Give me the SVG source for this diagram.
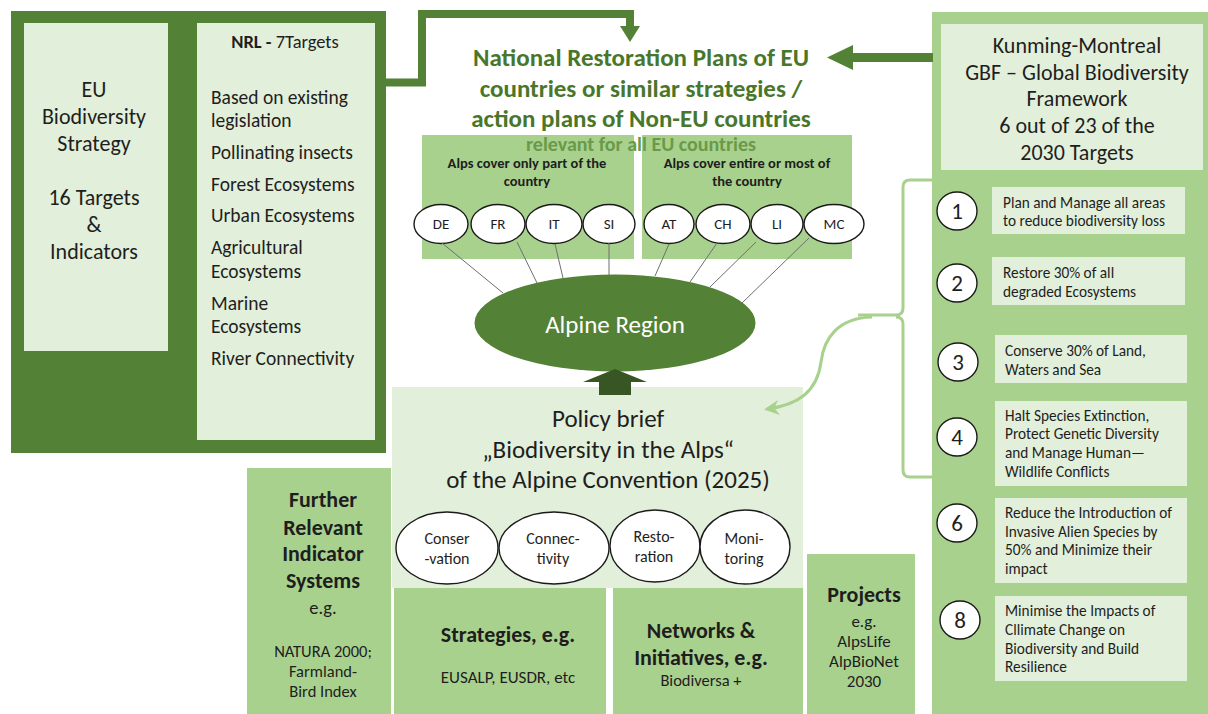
<svg xmlns="http://www.w3.org/2000/svg" width="1208" height="714" viewBox="0 0 1208 714">
  <defs>
    <style>
      text { font-family: Carlito, Lato, "Liberation Sans", sans-serif; fill: #1e1e1e; dominant-baseline: central; }
      .c { text-anchor: middle; }
      .b { font-weight: bold; }
      .dark { fill: #538135; }
      .mid { fill: #a9d18e; }
      .light { fill: #e2efda; }
      .node-ell { fill: #ffffff; stroke: #1a1a1a; stroke-width: 1.4; }
      .spoke { stroke: #6f6f6f; stroke-width: 1; fill: none; }
      .t-eu { font-size: 22px; }
      .t-nrl { font-size: 19.5px; }
      .t-title { font-size: 25px; font-weight: bold; fill: #48772b; }
      .t-gbf { font-size: 22px; }
      .t-tgt { font-size: 15.3px; }
      .t-num { font-size: 23px; }
      .t-ctry { font-size: 15px; }
      .t-grp { font-size: 14.5px; font-weight: bold; }
      .t-pb { font-size: 25px; }
      .t-pill { font-size: 16px; }
      .t-hd { font-size: 22px; font-weight: bold; }
      .t-sm { font-size: 16.5px; }
    </style>
    <marker id="lightHead" viewBox="0 0 10 10" refX="8" refY="5" markerWidth="5" markerHeight="5" orient="auto" markerUnits="strokeWidth">
      <path d="M0,0 L10,5 L0,10 L3,5 Z" fill="#a9d18e"/>
    </marker>
  </defs>

  <rect width="1208" height="714" fill="#ffffff"/>

  <!-- EU frame: strategy + nature restoration law -->
  <g id="eu-frame">
    <rect class="dark" x="11" y="11" width="375" height="442"/>
  </g>

  <g id="eu-strategy">
    <rect class="light" x="24" y="23" width="144" height="328"/>
    <text class="c t-eu" x="94" y="89">EU</text>
    <text class="c t-eu" x="94" y="116">Biodiversity</text>
    <text class="c t-eu" x="94" y="143">Strategy</text>
    <text class="c t-eu" x="94" y="197">16 Targets</text>
    <text class="c t-eu" x="94" y="224">&amp;</text>
    <text class="c t-eu" x="94" y="251">Indicators</text>
  </g>

  <g id="nrl">
    <rect class="light" x="197" y="23" width="178" height="417"/>
    <text class="c" x="285" y="41" font-size="18.5"><tspan class="b">NRL -</tspan> 7Targets</text>
    <text class="t-nrl" x="211" y="97">Based on existing</text>
    <text class="t-nrl" x="211" y="120">legislation</text>
    <text class="t-nrl" x="211" y="152">Pollinating insects</text>
    <text class="t-nrl" x="211" y="184">Forest Ecosystems</text>
    <text class="t-nrl" x="211" y="215">Urban Ecosystems</text>
    <text class="t-nrl" x="211" y="247">Agricultural</text>
    <text class="t-nrl" x="211" y="271">Ecosystems</text>
    <text class="t-nrl" x="211" y="303">Marine</text>
    <text class="t-nrl" x="211" y="326">Ecosystems</text>
    <text class="t-nrl" x="211" y="358">River Connectivity</text>
  </g>

  <!-- GBF column -->
  <g id="gbf">
    <rect class="mid" x="932" y="12" width="276" height="702"/>
    <rect class="light" x="941" y="24" width="262" height="146"/>
    <text class="c t-gbf" x="1077" y="45">Kunming-Montreal</text>
    <text class="c t-gbf" x="1077" y="72">GBF – Global Biodiversity</text>
    <text class="c t-gbf" x="1077" y="98">Framework</text>
    <text class="c t-gbf" x="1077" y="125">6 out of 23 of the</text>
    <text class="c t-gbf" x="1077" y="152">2030 Targets</text>
  </g>

  <g id="target-1">
    <ellipse class="node-ell" cx="957" cy="211" rx="20" ry="19"/>
    <text class="c t-num" x="957" y="211">1</text>
    <rect class="light" x="992" y="187" width="193" height="47"/>
    <text class="t-tgt" x="1003" y="202">Plan and Manage all areas</text>
    <text class="t-tgt" x="1003" y="220">to reduce biodiversity loss</text>
  </g>
  <g id="target-2">
    <ellipse class="node-ell" cx="957" cy="283" rx="20" ry="19"/>
    <text class="c t-num" x="957" y="283">2</text>
    <rect class="light" x="992" y="257" width="193" height="48"/>
    <text class="t-tgt" x="1003" y="272">Restore 30% of all</text>
    <text class="t-tgt" x="1003" y="291">degraded Ecosystems</text>
  </g>
  <g id="target-3">
    <ellipse class="node-ell" cx="958" cy="362" rx="20" ry="19"/>
    <text class="c t-num" x="958" y="362">3</text>
    <rect class="light" x="995" y="335" width="192" height="48"/>
    <text class="t-tgt" x="1005" y="350">Conserve 30% of Land,</text>
    <text class="t-tgt" x="1005" y="369">Waters and Sea</text>
  </g>
  <g id="target-4">
    <ellipse class="node-ell" cx="957" cy="437" rx="20" ry="19"/>
    <text class="c t-num" x="957" y="437">4</text>
    <rect class="light" x="995" y="401" width="192" height="85"/>
    <text class="t-tgt" x="1005" y="415">Halt Species Extinction,</text>
    <text class="t-tgt" x="1005" y="433">Protect Genetic Diversity</text>
    <text class="t-tgt" x="1005" y="452">and Manage Human—</text>
    <text class="t-tgt" x="1005" y="471">Wildlife Conflicts</text>
  </g>
  <g id="target-6">
    <ellipse class="node-ell" cx="957" cy="523" rx="20" ry="19"/>
    <text class="c t-num" x="957" y="523">6</text>
    <rect class="light" x="995" y="498" width="192" height="85"/>
    <text class="t-tgt" x="1005" y="512">Reduce the Introduction of</text>
    <text class="t-tgt" x="1005" y="531">Invasive Alien Species by</text>
    <text class="t-tgt" x="1005" y="549">50% and Minimize their</text>
    <text class="t-tgt" x="1005" y="568">impact</text>
  </g>
  <g id="target-8">
    <ellipse class="node-ell" cx="960" cy="620" rx="20" ry="19"/>
    <text class="c t-num" x="960" y="620">8</text>
    <rect class="light" x="995" y="596" width="192" height="85"/>
    <text class="t-tgt" x="1005" y="610">Minimise the Impacts of</text>
    <text class="t-tgt" x="1005" y="629">Cllimate Change on</text>
    <text class="t-tgt" x="1005" y="648">Biodiversity and Build</text>
    <text class="t-tgt" x="1005" y="666">Resilience</text>
  </g>

  <!-- country groups -->
  <g id="group-part">
    <rect class="mid" x="422" y="135" width="212" height="124"/>
    <text class="c t-grp" x="527" y="163">Alps cover only part of the</text>
    <text class="c t-grp" x="527" y="181">country</text>
  </g>
  <g id="group-most">
    <rect class="mid" x="642" y="135" width="210" height="124"/>
    <text class="c t-grp" x="747" y="163">Alps cover entire or most of</text>
    <text class="c t-grp" x="747" y="181">the country</text>
  </g>

  <g id="title">
    <text class="c t-title" x="641" y="57">National Restoration Plans of EU</text>
    <text class="c t-title" x="641" y="88">countries or similar strategies /</text>
    <text class="c t-title" x="641" y="118">action plans of Non-EU countries</text>
    <text class="c" x="641" y="144" font-size="20" font-weight="bold" style="fill:#6a9a48">relevant for all EU countries</text>
  </g>

  <!-- country nodes -->
  <g id="country-DE"><ellipse class="node-ell" cx="441" cy="224" rx="27" ry="19.5"/><text class="c t-ctry" x="441" y="224">DE</text></g>
  <g id="country-FR"><ellipse class="node-ell" cx="498" cy="224" rx="27" ry="19.5"/><text class="c t-ctry" x="498" y="224">FR</text></g>
  <g id="country-IT"><ellipse class="node-ell" cx="554" cy="224" rx="28" ry="19.5"/><text class="c t-ctry" x="554" y="224">IT</text></g>
  <g id="country-SI"><ellipse class="node-ell" cx="609" cy="224" rx="26" ry="19.5"/><text class="c t-ctry" x="609" y="224">SI</text></g>
  <g id="country-AT"><ellipse class="node-ell" cx="669" cy="224" rx="25" ry="19.5"/><text class="c t-ctry" x="669" y="224">AT</text></g>
  <g id="country-CH"><ellipse class="node-ell" cx="723" cy="224" rx="27" ry="19.5"/><text class="c t-ctry" x="723" y="224">CH</text></g>
  <g id="country-LI"><ellipse class="node-ell" cx="777" cy="224" rx="26" ry="19.5"/><text class="c t-ctry" x="777" y="224">LI</text></g>
  <g id="country-MC"><ellipse class="node-ell" cx="834" cy="224" rx="30" ry="19.5"/><text class="c t-ctry" x="834" y="224">MC</text></g>

  <g id="alpine-region">
    <ellipse cx="615" cy="323" rx="140.5" ry="48.5" fill="#538135"/>
    <text class="c" x="615" y="324" font-size="25" style="fill:#ffffff">Alpine Region</text>
  </g>

  <!-- policy brief and instruments -->
  <g id="policy-brief">
    <rect class="light" x="392" y="387" width="411" height="201"/>
    <text class="c t-pb" x="608" y="418">Policy brief</text>
    <text class="c t-pb" x="608" y="449">„Biodiversity in the Alps“</text>
    <text class="c t-pb" x="608" y="479">of the Alpine Convention (2025)</text>
  </g>
  <g id="pill-conservation">
    <ellipse class="node-ell" cx="447" cy="548" rx="51" ry="36"/>
    <text class="c t-pill" x="447" y="538">Conser</text>
    <text class="c t-pill" x="447" y="558">-vation</text>
  </g>
  <g id="pill-connectivity">
    <ellipse class="node-ell" cx="554" cy="548" rx="55" ry="36"/>
    <text class="c t-pill" x="553" y="538">Connec-</text>
    <text class="c t-pill" x="553" y="558">tivity</text>
  </g>
  <g id="pill-restoration">
    <ellipse class="node-ell" cx="655" cy="546" rx="45" ry="36"/>
    <text class="c t-pill" x="654" y="536">Resto-</text>
    <text class="c t-pill" x="654" y="556">ration</text>
  </g>
  <g id="pill-monitoring">
    <ellipse class="node-ell" cx="745" cy="547" rx="45" ry="37"/>
    <text class="c t-pill" x="744" y="538">Moni-</text>
    <text class="c t-pill" x="744" y="558">toring</text>
  </g>

  <g id="indicator-systems">
    <rect class="mid" x="247" y="468" width="144" height="246"/>
    <text class="c t-hd" x="323" y="499">Further</text>
    <text class="c t-hd" x="323" y="527">Relevant</text>
    <text class="c t-hd" x="323" y="553">Indicator</text>
    <text class="c t-hd" x="323" y="580">Systems</text>
    <text class="c" x="323" y="607" font-size="18.5">e.g.</text>
    <text class="c t-sm" x="323" y="651">NATURA 2000;</text>
    <text class="c t-sm" x="323" y="671">Farmland-</text>
    <text class="c t-sm" x="323" y="691">Bird Index</text>
  </g>
  <g id="strategies">
    <rect class="mid" x="394" y="588" width="212" height="126"/>
    <text class="c t-hd" x="508" y="634">Strategies, e.g.</text>
    <text class="c" x="508" y="677" font-size="17">EUSALP, EUSDR, etc</text>
  </g>
  <g id="networks">
    <rect class="mid" x="613" y="588" width="190" height="126"/>
    <text class="c t-hd" x="701" y="630">Networks &amp;</text>
    <text class="c t-hd" x="701" y="657">Initiatives, e.g.</text>
    <text class="c" x="701" y="680" font-size="16.5">Biodiversa +</text>
  </g>
  <g id="projects">
    <rect class="mid" x="807" y="554" width="108" height="160"/>
    <text class="c t-hd" x="864" y="594">Projects</text>
    <text class="c" x="864" y="621" font-size="17">e.g.</text>
    <text class="c" x="864" y="641" font-size="17">AlpsLife</text>
    <text class="c" x="864" y="661" font-size="17">AlpBioNet</text>
    <text class="c" x="864" y="681" font-size="17">2030</text>
  </g>

  <!-- connectors -->
  <g id="connectors">
    <line class="spoke" x1="442" y1="243" x2="503" y2="293"/>
    <line class="spoke" x1="517" y1="242" x2="537" y2="283"/>
    <line class="spoke" x1="555" y1="244" x2="563" y2="278"/>
    <line class="spoke" x1="609" y1="243" x2="609" y2="275"/>
    <line class="spoke" x1="669" y1="244" x2="655" y2="276"/>
    <line class="spoke" x1="717" y1="243" x2="690" y2="282"/>
    <line class="spoke" x1="756" y1="242" x2="710" y2="287"/>
    <line class="spoke" x1="809" y1="238" x2="742" y2="303"/>

    <!-- EU frame to national plans -->
    <path d="M386,82.5 H422 V14 H630 V28" fill="none" stroke="#538135" stroke-width="8"/>
    <polygon points="620,26 640,26 630,42" fill="#538135"/>

    <!-- GBF to national plans -->
    <rect x="852" y="53" width="81" height="9" fill="#538135"/>
    <polygon points="853,45 853,70 827,57.5" fill="#538135"/>

    <!-- policy brief up to alpine region -->
    <polygon points="615,369 647,382 631,382 631,395 599,395 599,382 583,382" fill="#375623"/>

    <!-- brace over GBF targets -->
    <path d="M932,180 H910 Q903,180 903,187 V308 Q903,315 896,315 H858 M896,317 Q903,317 903,324 V470 Q903,477 910,477 H932" fill="none" stroke="#a9d18e" stroke-width="3"/>
    <path d="M872,317 C838,318 824,338 821,362 C817,392 798,405 767,409" fill="none" stroke="#a9d18e" stroke-width="3" marker-end="url(#lightHead)"/>
  </g>
</svg>
